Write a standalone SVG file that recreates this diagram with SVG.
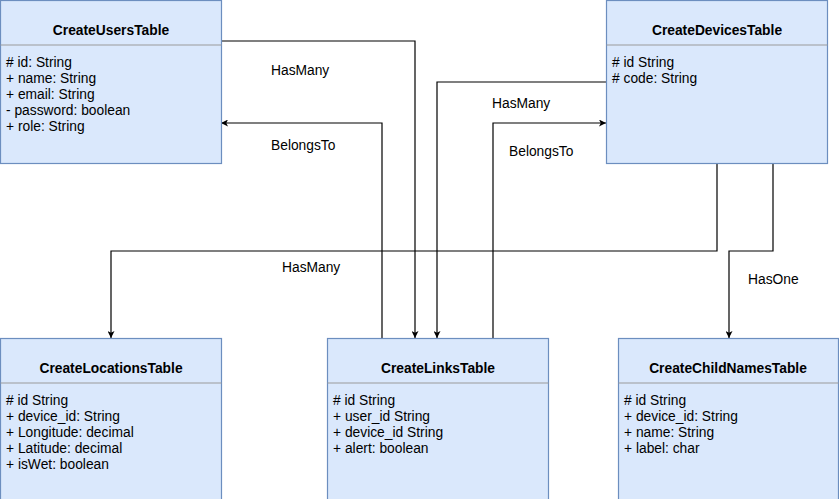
<svg xmlns="http://www.w3.org/2000/svg" width="839" height="499" viewBox="0 0 839 499">
<defs>
<style>
.box{fill:#dae8fc;stroke:#6c8ebf;stroke-width:1.2}
.div{stroke:#9a9a9a;stroke-width:1.2}
.title{font-family:"Liberation Sans",Arial,sans-serif;font-size:13.8px;font-weight:bold;text-anchor:middle;fill:#000}
.attr{font-family:"Liberation Sans",Arial,sans-serif;font-size:13.8px;fill:#000}
.lbl{font-family:"Liberation Sans",Arial,sans-serif;font-size:13.8px;fill:#000}
.edge{fill:none;stroke:#000;stroke-width:1.2}
</style>
<marker id="arr" viewBox="0 0 10 10" refX="10" refY="5" markerWidth="7" markerHeight="7" markerUnits="userSpaceOnUse" orient="auto">
<path d="M0,0 L10,5 L0,10 L2.5,5 Z" fill="#000"/>
</marker>
</defs>
<rect width="839" height="499" fill="#fff"/>

<g id="connectors">
<polyline class="edge" points="221,41 415,41 415,338" marker-end="url(#arr)"/>
<polyline class="edge" points="382,338 382,123 221,123" marker-end="url(#arr)"/>
<polyline class="edge" points="606,82 437,82 437,338" marker-end="url(#arr)"/>
<polyline class="edge" points="493,338 493,123 606,123" marker-end="url(#arr)"/>
<polyline class="edge" points="717,163 717,251 111,251 111,338" marker-end="url(#arr)"/>
<polyline class="edge" points="773,163 773,251 729,251 729,338" marker-end="url(#arr)"/>
<text class="lbl" x="271" y="75">HasMany</text>
<text class="lbl" x="271" y="150">BelongsTo</text>
<text class="lbl" x="492" y="108">HasMany</text>
<text class="lbl" x="509" y="156">BelongsTo</text>
<text class="lbl" x="282" y="272">HasMany</text>
<text class="lbl" x="748" y="284">HasOne</text>
</g>

<g id="CreateUsersTable">
<rect class="box" x="0.5" y="0.5" width="221" height="163"/>
<line class="div" x1="0.5" y1="45" x2="221.5" y2="45"/>
<text class="title" x="111" y="35">CreateUsersTable</text>
<text class="attr" x="6" y="67"># id: String</text>
<text class="attr" x="6" y="83">+ name: String</text>
<text class="attr" x="6" y="99">+ email: String</text>
<text class="attr" x="6" y="115">- password: boolean</text>
<text class="attr" x="6" y="131">+ role: String</text>
</g>

<g id="CreateDevicesTable">
<rect class="box" x="606.5" y="0.5" width="221" height="163"/>
<line class="div" x1="606.5" y1="45" x2="827.5" y2="45"/>
<text class="title" x="717" y="35">CreateDevicesTable</text>
<text class="attr" x="612" y="67"># id String</text>
<text class="attr" x="612" y="83"># code: String</text>
</g>

<g id="CreateLocationsTable">
<rect class="box" x="0.5" y="338.5" width="221" height="175"/>
<line class="div" x1="0.5" y1="383" x2="221.5" y2="383"/>
<text class="title" x="111" y="373">CreateLocationsTable</text>
<text class="attr" x="6" y="405"># id String</text>
<text class="attr" x="6" y="421">+ device_id: String</text>
<text class="attr" x="6" y="437">+ Longitude: decimal</text>
<text class="attr" x="6" y="453">+ Latitude: decimal</text>
<text class="attr" x="6" y="469">+ isWet: boolean</text>
</g>

<g id="CreateLinksTable">
<rect class="box" x="327.5" y="338.5" width="221" height="175"/>
<line class="div" x1="327.5" y1="383" x2="548.5" y2="383"/>
<text class="title" x="438" y="373">CreateLinksTable</text>
<text class="attr" x="333" y="405"># id String</text>
<text class="attr" x="333" y="421">+ user_id String</text>
<text class="attr" x="333" y="437">+ device_id String</text>
<text class="attr" x="333" y="453">+ alert: boolean</text>
</g>

<g id="CreateChildNamesTable">
<rect class="box" x="618.5" y="338.5" width="220" height="175"/>
<line class="div" x1="618.5" y1="383" x2="838.5" y2="383"/>
<text class="title" x="728" y="373">CreateChildNamesTable</text>
<text class="attr" x="624" y="405"># id String</text>
<text class="attr" x="624" y="421">+ device_id: String</text>
<text class="attr" x="624" y="437">+ name: String</text>
<text class="attr" x="624" y="453">+ label: char</text>
</g>
</svg>
